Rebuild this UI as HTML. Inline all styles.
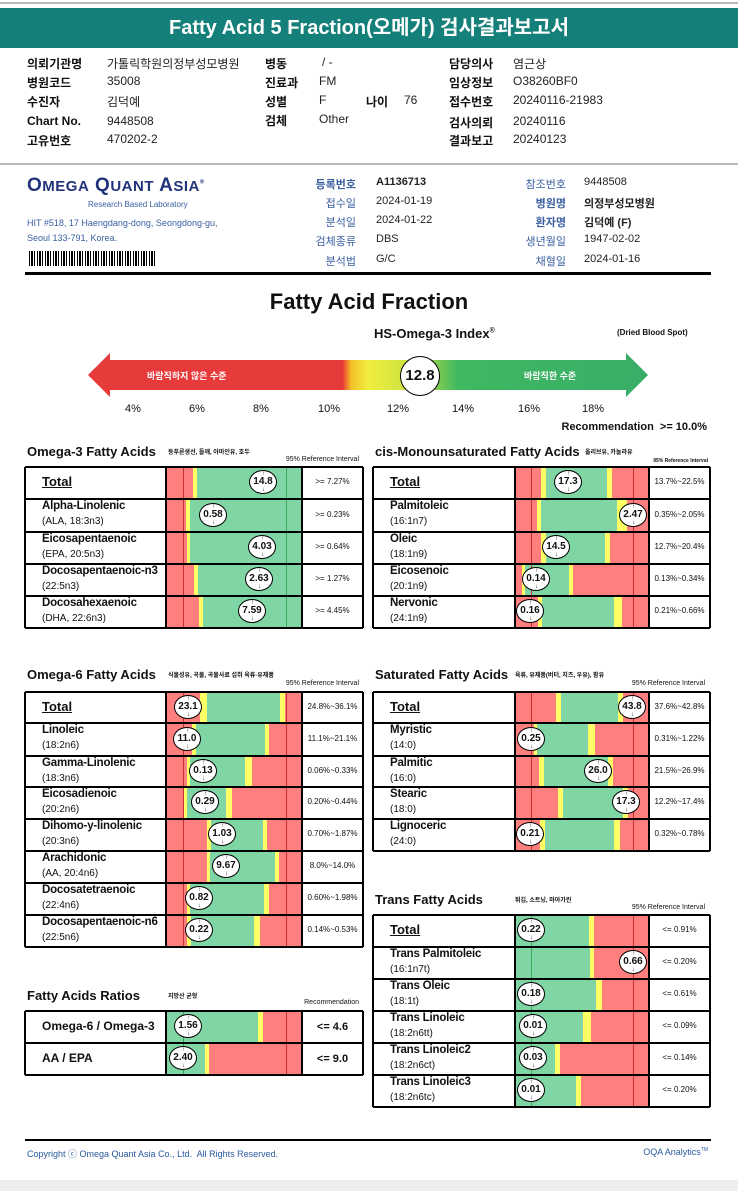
<!DOCTYPE html>
<html><head><meta charset="utf-8">
<style>
*{margin:0;padding:0;box-sizing:border-box}
body{width:738px;height:1191px;background:#fff;position:relative;overflow:hidden;font-family:"Liberation Sans","Noto Sans CJK KR",sans-serif;color:#111}
.a{position:absolute;white-space:nowrap}
.b{font-weight:bold}
.lab{font-weight:bold;font-size:12px}
.val{font-size:12px;color:#222}
.ml{font-size:11px;color:#3a5fa0;text-align:right;width:60px}
.mv{font-size:11px;color:#222}
.mk{position:absolute;width:28px;height:24px;border:1.5px solid #000;border-radius:50%;background:#fff;font-weight:bold;font-size:10px;text-align:center;line-height:21px}
.mk i{position:absolute;left:12px;font-style:normal;font-size:6px;line-height:6px}
</style></head><body>
<div class="a" style="left:0;top:2px;width:738px;height:2px;background:#bbb"></div>
<div class="a" style="left:0;top:8px;width:738px;height:40px;background:#15807a;color:#fff;font-size:20px;font-weight:bold;text-align:center;line-height:40px">Fatty Acid 5 Fraction(오메가) 검사결과보고서</div>

<div class="a lab" style="left:27px;top:55px">의뢰기관명</div><div class="a val" style="left:107px;top:55px">가톨릭학원의정부성모병원</div>
<div class="a lab" style="left:27px;top:74px">병원코드</div><div class="a val" style="left:107px;top:74px">35008</div>
<div class="a lab" style="left:27px;top:93px">수진자</div><div class="a val" style="left:107px;top:93px">김덕예</div>
<div class="a lab" style="left:27px;top:114px">Chart No.</div><div class="a val" style="left:107px;top:114px">9448508</div>
<div class="a lab" style="left:27px;top:132px">고유번호</div><div class="a val" style="left:107px;top:132px">470202-2</div>
<div class="a lab" style="left:265px;top:55px">병동</div><div class="a val" style="left:322px;top:55px">/ -</div>
<div class="a lab" style="left:265px;top:74px">진료과</div><div class="a val" style="left:319px;top:74px">FM</div>
<div class="a lab" style="left:265px;top:93px">성별</div><div class="a val" style="left:319px;top:93px">F</div>
<div class="a lab" style="left:366px;top:93px">나이</div><div class="a val" style="left:404px;top:93px">76</div>
<div class="a lab" style="left:265px;top:112px">검체</div><div class="a val" style="left:319px;top:112px">Other</div>
<div class="a lab" style="left:449px;top:55px">담당의사</div><div class="a val" style="left:513px;top:55px">염근상</div>
<div class="a lab" style="left:449px;top:74px">임상정보</div><div class="a val" style="left:513px;top:74px">O38260BF0</div>
<div class="a lab" style="left:449px;top:93px">접수번호</div><div class="a val" style="left:513px;top:93px">20240116-21983</div>
<div class="a lab" style="left:449px;top:114px">검사의뢰</div><div class="a val" style="left:513px;top:114px">20240116</div>
<div class="a lab" style="left:449px;top:132px">결과보고</div><div class="a val" style="left:513px;top:132px">20240123</div>
<div class="a" style="left:0;top:163px;width:738px;height:2px;background:#bbb"></div>

<div class="a" style="left:27px;top:175px;font-size:19px;font-weight:bold;color:#23337a;letter-spacing:0.5px">O<span style="font-size:15px">MEGA</span> Q<span style="font-size:15px">UANT</span> A<span style="font-size:15px">SIA</span><sup style="font-size:6px">®</sup></div>
<div class="a" style="left:88px;top:200px;font-size:8px;color:#3a5fa0">Research Based Laboratory</div>
<div class="a" style="left:27px;top:218px;font-size:9px;color:#3a5fa0">HIT #518, 17 Haengdang-dong, Seongdong-gu,</div>
<div class="a" style="left:27px;top:233px;font-size:9px;color:#3a5fa0">Seoul 133-791, Korea.</div>
<div class="a" style="left:29px;top:251px;width:126px;height:15px;background:repeating-linear-gradient(90deg,#000 0 1px,#fff 1px 2px,#000 2px 4px,#fff 4px 5px,#000 5px 6px,#fff 6px 8px)"></div>

<div class="a ml" style="left:296px;top:176px;font-weight:bold">등록번호</div><div class="a mv b" style="left:376px;top:176px">A1136713</div>
<div class="a ml" style="left:296px;top:195px">접수일</div><div class="a mv" style="left:376px;top:195px">2024-01-19</div>
<div class="a ml" style="left:296px;top:214px">분석일</div><div class="a mv" style="left:376px;top:214px">2024-01-22</div>
<div class="a ml" style="left:296px;top:233px">검체종류</div><div class="a mv" style="left:376px;top:233px">DBS</div>
<div class="a ml" style="left:296px;top:253px">분석법</div><div class="a mv" style="left:376px;top:253px">G/C</div>
<div class="a ml" style="left:506px;top:176px">참조번호</div><div class="a mv" style="left:584px;top:176px">9448508</div>
<div class="a ml" style="left:506px;top:195px;font-weight:bold">병원명</div><div class="a mv b" style="left:584px;top:195px">의정부성모병원</div>
<div class="a ml" style="left:506px;top:214px;font-weight:bold">환자명</div><div class="a mv b" style="left:584px;top:214px">김덕예 (F)</div>
<div class="a ml" style="left:506px;top:233px">생년월일</div><div class="a mv" style="left:584px;top:233px">1947-02-02</div>
<div class="a ml" style="left:506px;top:253px">채혈일</div><div class="a mv" style="left:584px;top:253px">2024-01-16</div>
<div class="a" style="left:25px;top:272px;width:686px;height:3px;background:#000"></div>

<div class="a b" style="left:0;width:738px;text-align:center;top:289px;font-size:22px">Fatty Acid Fraction</div>
<div class="a b" style="left:374px;top:326px;font-size:13px">HS-Omega-3 Index<sup style="font-size:7px">®</sup></div>
<div class="a b" style="left:617px;top:328px;font-size:8px">(Dried Blood Spot)</div>
<svg class="a" style="left:86px;top:350px" width="566" height="50">
<defs><linearGradient id="g" x1="0" x2="1"><stop offset="0" stop-color="#e73a3a"/><stop offset="0.455" stop-color="#e73a3a"/><stop offset="0.46" stop-color="#f06a2a"/><stop offset="0.47" stop-color="#f4c02a"/><stop offset="0.5" stop-color="#f0ee40"/><stop offset="0.58" stop-color="#c8e040"/><stop offset="0.66" stop-color="#40b860"/><stop offset="1" stop-color="#38ad68"/></linearGradient></defs>
<polygon points="2,25 24,3 24,10 540,10 540,3 562,25 540,47 540,40 24,40 24,47" fill="url(#g)"/>
</svg>
<div class="a b" style="left:147px;top:369px;font-size:9px;color:#fff">바람직하지 않은 수준</div>
<div class="a b" style="left:524px;top:369px;font-size:9px;color:#fff">바람직한 수준</div>
<div class="a b" style="left:400px;top:356px;width:40px;height:40px;border:1.5px solid #000;border-radius:50%;background:#fff;text-align:center;line-height:37px;font-size:15px">12.8</div>
<div class="a" style="left:0;top:403px;font-size:11px;width:738px">
<span class="a" style="left:125px">4%</span><span class="a" style="left:189px">6%</span><span class="a" style="left:253px">8%</span><span class="a" style="left:318px">10%</span><span class="a" style="left:387px">12%</span><span class="a" style="left:452px">14%</span><span class="a" style="left:518px">16%</span><span class="a" style="left:582px">18%</span></div>
<div class="a b" style="right:31px;top:421px;font-size:11px">Recommendation&nbsp; &gt;= 10.0%</div>

<div id="root"></div>
<div class="a" style="left:25px;top:1139px;width:686px;height:2px;background:#000"></div>
<div class="a" style="left:27px;top:1147px;font-size:9px;color:#2a5aa0">Copyright ⓒ Omega Quant Asia Co., Ltd.&nbsp; All Rights Reserved.</div>
<div class="a" style="right:30px;top:1147px;font-size:9px;color:#2a5aa0">OQA Analytics<sup style="font-size:5px">TM</sup></div>
<div class="a" style="left:0;top:1180px;width:738px;height:11px;background:#eee"></div>

<script>
var R='#ff7f7f',Y='#ffff66',G='#80d5a5';
var root=document.getElementById('root');
function d(s,h){var e=document.createElement('div');e.className='a';e.style.cssText=s;if(h!=null)e.innerHTML=h;root.appendChild(e);return e;}
function tbl(c){
 var x=c.x,nw=c.nw,bw=c.bw,rw=c.rw,T=c.tops,W=nw+bw+rw,bx=x+nw;
 c.rows.forEach(function(r,i){
  var t=T[i],h=T[i+1]-t;
  r.s.forEach(function(s){d('left:'+(bx+s[1])+'px;top:'+t+'px;width:'+(s[2]-s[1])+'px;height:'+h+'px;background:'+s[0]);});
  (c.lines).forEach(function(l){d('left:'+(bx+l[0])+'px;top:'+t+'px;width:1px;height:'+h+'px;background:'+l[1]);});
  if(r.total){d('left:'+(x+17)+'px;top:'+(t+h/2-9)+'px;font-size:13px;font-weight:bold;text-decoration:underline','Total');}
  else if(r.sub==null){d('left:'+(x+17)+'px;top:'+(t+h/2-8)+'px;font-size:12px;font-weight:bold',r.n);}
  else{d('left:'+(x+17)+'px;top:'+(t+1)+'px;font-size:11.5px;font-weight:bold;letter-spacing:-0.2px',r.n);d('left:'+(x+17)+'px;top:'+(t+17)+'px;font-size:10px',r.sub);}
  d('left:'+(bx+bw)+'px;top:'+(t+h/2-6)+'px;width:'+rw+'px;text-align:center;font-size:'+(c.rf||8)+'px;'+(c.rb?'font-weight:bold;':''),r.ref);
  var m=d('left:'+(bx+r.m-14)+'px;top:'+(t+h/2-13)+'px','');m.className='mk';m.innerHTML='<i style="top:0">↑</i>'+r.v+'<i style="bottom:0">↓</i>';
 });
 for(var i=0;i<T.length;i++)d('left:'+x+'px;top:'+(T[i]-1)+'px;width:'+W+'px;height:2px;background:#000');
 [x,bx,bx+bw,x+W].forEach(function(v){d('left:'+(v-1)+'px;top:'+T[0]+'px;width:2px;height:'+(T[T.length-1]-T[0])+'px;background:#000');});
}
function low(a,b,w){return [[R,0,a],[Y,a,b],[G,b,w]];}
function rng(a,b,c,e,w){return [[R,0,a],[Y,a,b],[G,b,c],[Y,c,e],[R,e,w]];}
function hi(a,b,w){return [[G,0,a],[Y,a,b],[R,b,w]];}
function title(x,y,t,n,nx){d('left:'+x+'px;top:'+y+'px;font-size:13px;font-weight:bold',t);d('left:'+nx+'px;top:'+(y+3)+'px;font-size:6px;font-weight:bold',n);}
title(27,444,'Omega-3 Fatty Acids','등푸른생선, 들깨, 아마인유, 호두',168);
d('right:379px;top:456px;font-size:7px','95% Reference Interval');
title(375,444,'cis-Monounsaturated Fatty Acids','올리브유, 카놀라유',585);
d('right:30px;top:458px;font-size:5px;font-weight:bold','95% Reference Interval');
title(27,667,'Omega-6 Fatty Acids','식물성유, 곡물, 곡물사료 섭취 육류·유제품',168);
d('right:379px;top:680px;font-size:7px','95% Reference Interval');
title(375,667,'Saturated Fatty Acids','육류, 유제품(버터, 치즈, 우유), 팜유',515);
d('right:33px;top:680px;font-size:7px','95% Reference Interval');
title(375,892,'Trans Fatty Acids','튀김, 소트닝, 마아가린',515);
d('right:33px;top:904px;font-size:7px','95% Reference Interval');
title(27,988,'Fatty Acids Ratios','지방산 균형',168);
d('right:379px;top:999px;font-size:7px','Recommendation');

var LG=[[17,'#c83030'],[120,'#3aa85a']], LR=[[16,'#c83030'],[118,'#c83030']];
tbl({x:25,nw:141,bw:136,rw:61,tops:[467,499,532,564,596,628],lines:LG,rows:[
 {total:1,s:low(27,31,136),m:97,v:'14.8',ref:'&gt;= 7.27%'},
 {n:'Alpha-Linolenic',sub:'(ALA, 18:3n3)',s:low(20,24,136),m:47,v:'0.58',ref:'&gt;= 0.23%'},
 {n:'Eicosapentaenoic',sub:'(EPA, 20:5n3)',s:low(21,24,136),m:96,v:'4.03',ref:'&gt;= 0.64%'},
 {n:'Docosapentaenoic-n3',sub:'(22:5n3)',s:low(28,32,136),m:93,v:'2.63',ref:'&gt;= 1.27%'},
 {n:'Docosahexaenoic',sub:'(DHA, 22:6n3)',s:low(33,37,136),m:86,v:'7.59',ref:'&gt;= 4.45%'}]});
tbl({x:373,nw:142,bw:134,rw:61,tops:[467,499,532,564,596,628],lines:LR,rows:[
 {total:1,s:rng(26,31,92,97,134),m:53,v:'17.3',ref:'13.7%~22.5%'},
 {n:'Palmitoleic',sub:'(16:1n7)',s:rng(22,26,102,112,134),m:118,v:'2.47',ref:'0.35%~2.05%'},
 {n:'Oleic',sub:'(18:1n9)',s:rng(26,31,90,95,134),m:41,v:'14.5',ref:'12.7%~20.4%'},
 {n:'Eicosenoic',sub:'(20:1n9)',s:rng(7,10,54,58,134),m:21,v:'0.14',ref:'0.13%~0.34%'},
 {n:'Nervonic',sub:'(24:1n9)',s:rng(23,27,99,107,134),m:15,v:'0.16',ref:'0.21%~0.66%'}]});
tbl({x:25,nw:141,bw:136,rw:61,tops:[692,723,756,787,819,851,883,915,947],lines:[[17,'#c83030'],[120,'#c83030']],rows:[
 {total:1,s:rng(34,41,114,119,136),m:22,v:'23.1',ref:'24.8%~36.1%'},
 {n:'Linoleic',sub:'(18:2n6)',s:rng(26,30,99,103,136),m:21,v:'11.0',ref:'11.1%~21.1%'},
 {n:'Gamma-Linolenic',sub:'(18:3n6)',s:rng(21,24,79,86,136),m:37,v:'0.13',ref:'0.06%~0.33%'},
 {n:'Eicosadienoic',sub:'(20:2n6)',s:rng(18,21,60,66,136),m:39,v:'0.29',ref:'0.20%~0.44%'},
 {n:'Dihomo-y-linolenic',sub:'(20:3n6)',s:rng(41,45,97,101,136),m:56,v:'1.03',ref:'0.70%~1.87%'},
 {n:'Arachidonic',sub:'(AA, 20:4n6)',s:rng(41,44,109,113,136),m:60,v:'9.67',ref:'8.0%~14.0%'},
 {n:'Docosatetraenoic',sub:'(22:4n6)',s:rng(21,24,98,103,136),m:33,v:'0.82',ref:'0.60%~1.98%'},
 {n:'Docosapentaenoic-n6',sub:'(22:5n6)',s:rng(21,25,88,94,136),m:33,v:'0.22',ref:'0.14%~0.53%'}]});
tbl({x:373,nw:142,bw:134,rw:61,tops:[692,723,756,787,819,851],lines:LR,rows:[
 {total:1,s:rng(41,46,103,108,134),m:117,v:'43.8',ref:'37.6%~42.8%'},
 {n:'Myristic',sub:'(14:0)',s:rng(19,22,73,80,134),m:16,v:'0.25',ref:'0.31%~1.22%'},
 {n:'Palmitic',sub:'(16:0)',s:rng(24,29,93,98,134),m:83,v:'26.0',ref:'21.5%~26.9%'},
 {n:'Stearic',sub:'(18:0)',s:rng(43,48,108,113,134),m:111,v:'17.3',ref:'12.2%~17.4%'},
 {n:'Lignoceric',sub:'(24:0)',s:rng(25,30,99,105,134),m:15,v:'0.21',ref:'0.32%~0.78%'}]});
tbl({x:373,nw:142,bw:134,rw:61,tops:[915,947,979,1011,1043,1075,1107],lines:[[16,'#3aa85a'],[118,'#c83030']],rows:[
 {total:1,s:hi(74,79,134),m:16,v:'0.22',ref:'&lt;= 0.91%'},
 {n:'Trans Palmitoleic',sub:'(16:1n7t)',s:hi(75,79,134),m:118,v:'0.66',ref:'&lt;= 0.20%'},
 {n:'Trans Oleic',sub:'(18:1t)',s:hi(81,87,134),m:16,v:'0.18',ref:'&lt;= 0.61%'},
 {n:'Trans Linoleic',sub:'(18:2n6tt)',s:hi(68,76,134),m:18,v:'0.01',ref:'&lt;= 0.09%'},
 {n:'Trans Linoleic2',sub:'(18:2n6ct)',s:hi(40,45,134),m:18,v:'0.03',ref:'&lt;= 0.14%'},
 {n:'Trans Linoleic3',sub:'(18:2n6tc)',s:hi(61,66,134),m:16,v:'0.01',ref:'&lt;= 0.20%'}]});
tbl({x:25,nw:141,bw:136,rw:61,tops:[1011,1043,1075],lines:[[17,'#3aa85a'],[120,'#c83030']],rf:11,rb:1,rows:[
 {n:'Omega-6 / Omega-3',s:hi(92,97,136),m:22,v:'1.56',ref:'&lt;= 4.6'},
 {n:'AA / EPA',s:hi(39,43,136),m:17,v:'2.40',ref:'&lt;= 9.0'}]});
</script>
</body></html>
